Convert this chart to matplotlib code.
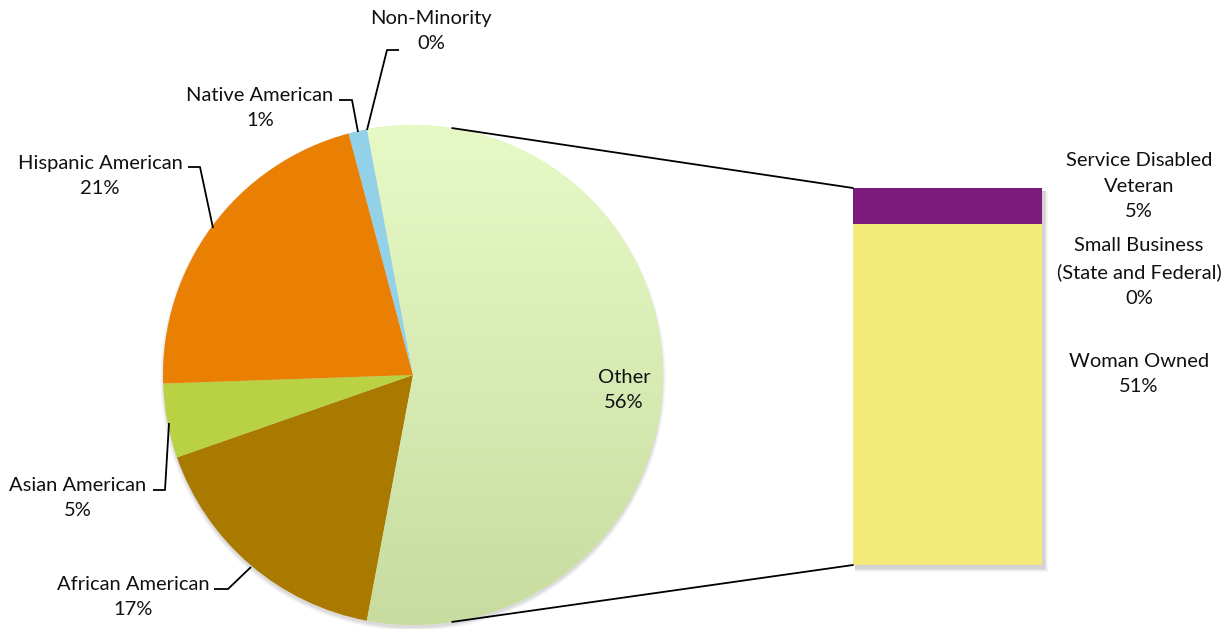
import matplotlib
matplotlib.use("Agg")
import matplotlib.pyplot as plt
import numpy as np
from matplotlib.patches import Circle, Rectangle, ConnectionPatch
from matplotlib.colors import LinearSegmentedColormap

# ---------------- data ----------------
pie_labels = ["Other", "African American", "Asian American",
              "Hispanic American", "Native American", "Non-Minority"]
pie_values = [55.9, 16.7, 4.8, 21.4, 1.2, 0.0]
pie_colors = ["#D6ECB0", "#AA7900", "#B8D244", "#E98004", "#93D1E8", "#4F81BD"]

bar_labels = ["Woman Owned", "Small Business\n(State and Federal)",
              "Service Disabled\nVeteran"]
bar_values = [50.6, 0.0, 5.3]
bar_colors = ["#F3EA7A", "#4BACC6", "#7B1A7A"]

# ---------------- layout ----------------
W, H = 1231, 629
plt.rcParams['font.family'] = ['Lato', 'DejaVu Sans']
FS = 14.5
LS = 1.6

fig = plt.figure(figsize=(W / 100, H / 100), dpi=100)
ax = fig.add_axes([0, 0, 1, 1])
cx, cy, R = 413, H - 375, 250

# soft shadow for the pie (mostly below)
for dr, a in [(4, 0.025), (3, 0.03), (2, 0.04), (1, 0.05)]:
    ax.add_patch(Circle((cx, cy - 3), R + dr - 1, color='black', alpha=a,
                        lw=0, zorder=0))

wedges, _ = ax.pie(pie_values, colors=pie_colors, startangle=100.6,
                   counterclock=False, center=(cx, cy), radius=R,
                   wedgeprops=dict(linewidth=0))

# gradient fill for "Other"
cmap = LinearSegmentedColormap.from_list('g', ['#C8DCA0', '#E7FAC6'])
grad = np.linspace(0, 1, 256).reshape(-1, 1)
im = ax.imshow(grad, cmap=cmap, extent=(cx - R, cx + R, cy - R, cy + R),
               origin='lower', aspect='auto', zorder=wedges[0].get_zorder() + 0.1)
im.set_clip_path(wedges[0])

ax.set_xlim(0, W)
ax.set_ylim(0, H)
ax.set_aspect('equal')
ax.axis('off')

def pct(v):
    return f"{int(round(v))}%"

# outside labels with leader lines (pixel positions from top-left)
label_pos = {
    "Non-Minority":      dict(text=(431, 31), line=[(367, 130), (387, 50), (399, 50)]),
    "Native American":   dict(text=(260, 108), line=[(358, 132), (352, 100), (339, 100)]),
    "Hispanic American": dict(text=(100, 176), line=[(213, 228), (200, 167), (188, 167)]),
    "Asian American":    dict(text=(78, 498), line=[(169, 423), (165, 490), (153, 490)]),
    "African American":  dict(text=(133, 597), line=[(251, 567), (228, 589), (214, 589)]),
}
for name, val in zip(pie_labels, pie_values):
    if name in label_pos:
        p = label_pos[name]
        tx, ty = p["text"]
        ax.text(tx, H - ty, f"{name}\n{pct(val)}", ha='center', va='center',
                fontsize=FS, linespacing=LS, color='#111111')
        xs = [q[0] for q in p["line"]]
        ys = [H - q[1] for q in p["line"]]
        ax.plot(xs, ys, color='black', lw=1.3, solid_capstyle='butt', zorder=5)
    else:
        ax.text(624, H - 390, f"{name}\n{pct(val)}", ha='center', va='center',
                fontsize=FS, linespacing=LS, color='#111111', zorder=6)

# ---------------- bar of pie ----------------
bx = fig.add_axes([853 / W, (H - 565) / H, (1042 - 853) / W, 377 / H])
total = sum(bar_values)
bottoms = np.concatenate([[0], np.cumsum(bar_values)[:-1]])
# soft shadow
for k, a in enumerate([0.03, 0.04, 0.05, 0.06]):
    e = (4 - k)
    bx.add_patch(Rectangle((-0.5 + 2 / 189, 0 - (3 + e) / 377 * total),
                           1 + e / 189, total + e / 377 * total,
                           transform=bx.transData, color='black', alpha=a,
                           lw=0, zorder=0, clip_on=False))
bx.bar([0] * len(bar_values), bar_values, bottom=bottoms, width=1,
       color=bar_colors, lw=0, zorder=2)
bx.set_xlim(-0.5, 0.5)
bx.set_ylim(0, total)
bx.axis('off')

bar_label_pos = {
    "Service Disabled\nVeteran": 186,
    "Small Business\n(State and Federal)": 272,
    "Woman Owned": 374,
}
for name, val in zip(bar_labels, bar_values):
    y = bar_label_pos[name]
    fig.text(1139 / W, (H - y) / H, f"{name}\n{pct(val)}", ha='center',
             va='center', fontsize=FS, linespacing=LS, color='#111111')

# connector lines
ang = np.deg2rad(81)
top_pt = (cx + R * np.cos(ang), cy + R * np.sin(ang))
bot_pt = (cx + R * np.cos(-ang), cy + R * np.sin(-ang))
for p_pie, yb in [(top_pt, total), (bot_pt, 0)]:
    con = ConnectionPatch(xyA=p_pie, coordsA=ax.transData,
                          xyB=(-0.5, yb), coordsB=bx.transData,
                          color='black', lw=1.3, zorder=1)
    fig.add_artist(con)

fig.savefig("out.png", dpi=100)
